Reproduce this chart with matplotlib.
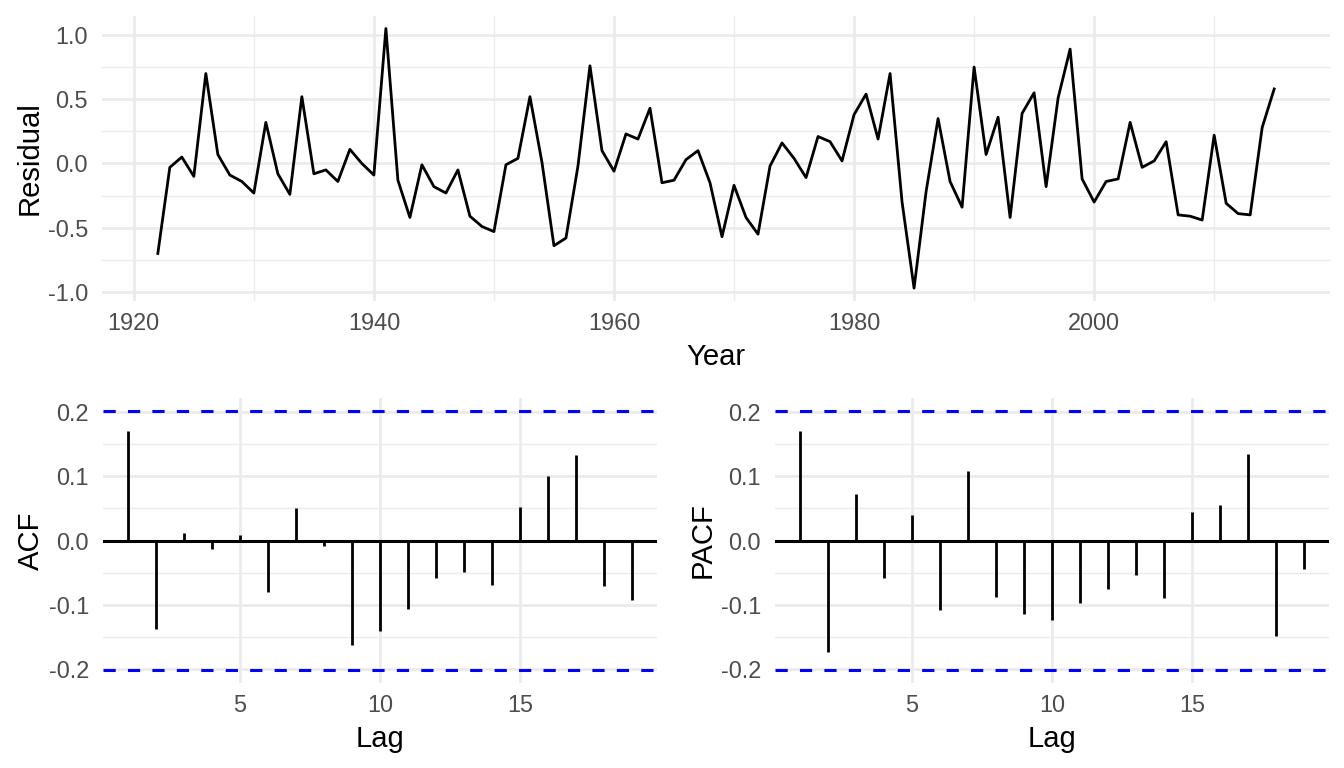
import numpy as np
import matplotlib
matplotlib.use("Agg")
import matplotlib.pyplot as plt
from matplotlib.ticker import MultipleLocator

plt.rcParams['font.family'] = ['Liberation Sans', 'DejaVu Sans']
plt.rcParams['axes.unicode_minus'] = False

# residual series, one value per year
years = np.arange(1922, 2016)
resid = [-0.70, -0.03, 0.05, -0.10, 0.70, 0.07, -0.09, -0.14, -0.23, 0.32,
         -0.08, -0.24, 0.52, -0.08, -0.05, -0.14, 0.11, 0.00, -0.09, 1.05,
         -0.13, -0.42, -0.01, -0.18, -0.23, -0.05, -0.41, -0.49, -0.53, -0.01,
         0.04, 0.52, 0.01, -0.64, -0.58, -0.02, 0.76, 0.10, -0.06, 0.23,
         0.19, 0.43, -0.15, -0.13, 0.03, 0.10, -0.15, -0.57, -0.17, -0.42,
         -0.55, -0.02, 0.16, 0.04, -0.11, 0.21, 0.17, 0.02, 0.38, 0.54,
         0.19, 0.70, -0.30, -0.97, -0.22, 0.35, -0.14, -0.34, 0.75, 0.07,
         0.36, -0.42, 0.39, 0.55, -0.18, 0.51, 0.89, -0.12, -0.30, -0.14,
         -0.12, 0.32, -0.03, 0.02, 0.17, -0.40, -0.41, -0.44, 0.22, -0.31,
         -0.39, -0.40, 0.28, 0.58]

lags = np.arange(1, 20)
acf = [0.170, -0.138, 0.011, -0.013, 0.009, -0.080, 0.050, -0.009, -0.163,
       -0.141, -0.107, -0.058, -0.049, -0.069, 0.052, 0.100, 0.133, -0.071,
       -0.093]
pacf = [0.170, -0.173, 0.072, -0.059, 0.039, -0.109, 0.108, -0.088, -0.114,
        -0.124, -0.097, -0.075, -0.053, -0.090, 0.045, 0.056, 0.134, -0.148,
        -0.045]
conf = 0.202

W, H = 1344, 768
fig = plt.figure(figsize=(W / 100, H / 100), dpi=100)
fig.patch.set_facecolor('white')

grid_col = '#EBEBEB'
tick_col = '#4D4D4D'
tick_fs = 16.9
lab_fs = 21.1


def style(ax):
    for s in ax.spines.values():
        s.set_visible(False)
    ax.set_axisbelow(True)
    ax.grid(which='major', color=grid_col, linewidth=2.0)
    ax.grid(which='minor', color=grid_col, linewidth=1.0)
    ax.tick_params(which='both', length=0, labelsize=tick_fs, labelcolor=tick_col)
    ax.tick_params(axis='y', pad=10)
    ax.tick_params(axis='x', pad=8)


def box(l, t, r, b):
    return [l / W, 1 - b / H, (r - l) / W, (b - t) / H]


# top: residuals
ax = fig.add_axes(box(102, 15.7, 1330, 301))
ax.plot(years, resid, color='black', linewidth=2.0)
ax.set_xlim(1917.35, 2019.65)
ax.set_ylim(-1.07, 1.15)
ax.xaxis.set_major_locator(MultipleLocator(20))
ax.xaxis.set_minor_locator(MultipleLocator(10))
ax.yaxis.set_major_locator(MultipleLocator(0.5))
ax.yaxis.set_minor_locator(MultipleLocator(0.25))
ax.yaxis.set_major_formatter(plt.FormatStrFormatter('%.1f'))
style(ax)
ax.set_xlabel('Year', fontsize=lab_fs, labelpad=6)
ax.set_ylabel('Residual', fontsize=lab_fs, labelpad=3)


def corr_panel(ax, vals, name):
    ax.axhline(0, color='black', linewidth=2.2)
    ax.vlines(lags, 0, vals, color='black', linewidth=2.0)
    for c in (conf, -conf):
        ax.axhline(c, color='blue', linewidth=2.2, linestyle=(0, (4, 4)))
    ax.set_xlim(0.1, 19.9)
    ax.set_ylim(-0.222, 0.222)
    ax.set_xticks([5, 10, 15])
    ax.yaxis.set_major_locator(MultipleLocator(0.1))
    ax.yaxis.set_minor_locator(MultipleLocator(0.05))
    ax.yaxis.set_major_formatter(plt.FormatStrFormatter('%.1f'))
    style(ax)
    ax.grid(which='minor', axis='x', visible=False)
    ax.set_xlabel('Lag', fontsize=lab_fs, labelpad=6)
    ax.set_ylabel(name, fontsize=lab_fs, labelpad=3)


ax1 = fig.add_axes(box(103, 398, 657, 683))
corr_panel(ax1, acf, 'ACF')
ax2 = fig.add_axes(box(775, 398, 1329, 683))
corr_panel(ax2, pacf, 'PACF')

fig.savefig('out.png', dpi=100, facecolor='white')
